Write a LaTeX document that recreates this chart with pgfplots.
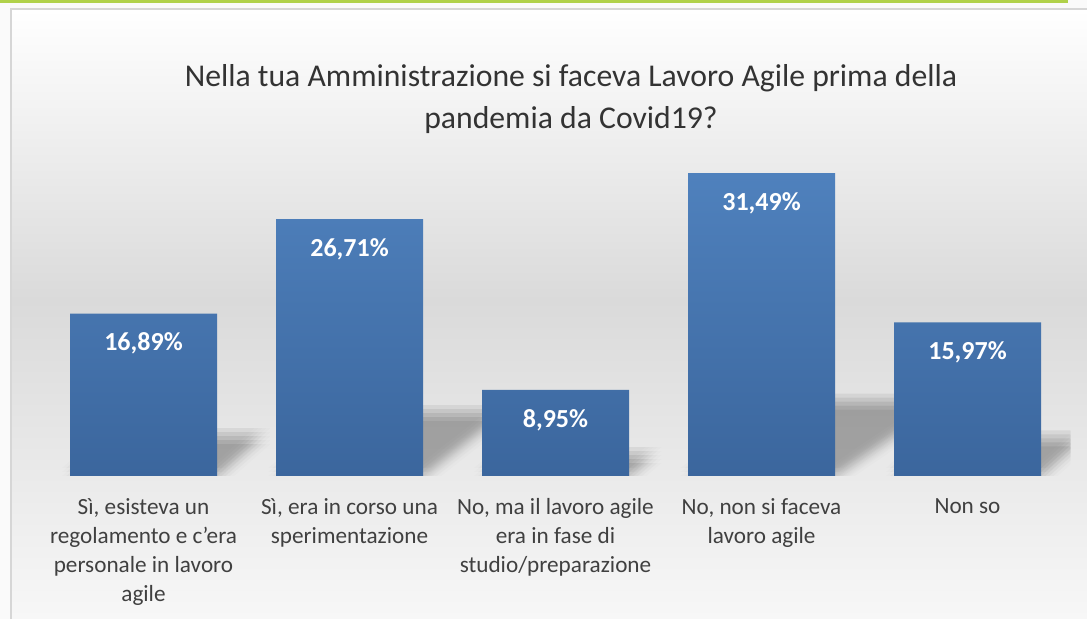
\documentclass[border=0pt]{standalone}
\usepackage{fontspec}
\setmainfont{Carlito}
\usepackage{pgfplots}
\pgfplotsset{compat=1.18}
\definecolor{bgside}{HTML}{FAFAFA}
\definecolor{framec}{HTML}{D6D6D6}
\definecolor{bgmid}{HTML}{DADADA}
\definecolor{bgbot}{HTML}{F8F8F8}
\definecolor{greenbar}{HTML}{B0D14A}
\definecolor{bartop}{HTML}{4F81BD}
\definecolor{barbot}{HTML}{3B669D}
\definecolor{txt}{HTML}{404040}
\definecolor{ttl}{HTML}{333333}
% soft (blurred) perspective shadow behind a bar: #3 left, #4 right, #5 shift, #6 height
\newcommand{\shadowone}[6]{%
  \fill[black, fill opacity=0.013, xshift=#1pt, yshift=#2pt]
    (axis cs:#3,0) -- (axis cs:#4,0) -- (axis cs:{#4+#5},#6) -- (axis cs:{#3+#5},#6) -- cycle;}
\newcommand{\shadowrow}[5]{%
  \shadowone{-4}{#1}{#2}{#3}{#4}{#5}\shadowone{-2}{#1}{#2}{#3}{#4}{#5}%
  \shadowone{0}{#1}{#2}{#3}{#4}{#5}\shadowone{2}{#1}{#2}{#3}{#4}{#5}%
  \shadowone{4}{#1}{#2}{#3}{#4}{#5}}
\newcommand{\shadowblur}[4]{%
  \shadowrow{-4}{#1}{#2}{#3}{#4}\shadowrow{-2}{#1}{#2}{#3}{#4}%
  \shadowrow{0}{#1}{#2}{#3}{#4}\shadowrow{2}{#1}{#2}{#3}{#4}%
  \shadowrow{4}{#1}{#2}{#3}{#4}}
\begin{document}
\begin{tikzpicture}
\path[use as bounding box] (0,0) rectangle (543.5pt,309.5pt);
\clip (0,0) rectangle (543.5pt,309.5pt);
\fill[bgside] (0,0) rectangle (543.5pt,309.5pt);
\shade[top color=white, bottom color=bgmid] (5.5pt,159.5pt) rectangle (550pt,304.9pt);
\shade[top color=bgmid, bottom color=bgbot] (5.5pt,-5pt) rectangle (550pt,159.5pt);
\draw[framec, line width=1pt] (5.5pt,-5pt) -- (5.5pt,304.9pt) -- (550pt,304.9pt);
\fill[greenbar] (0,307.9pt) rectangle (534pt,310pt);
\node[align=center, text=ttl, font=\fontsize{15.85}{21}\selectfont] at (285.5pt,260pt)
  {Nella tua Amministrazione si faceva Lavoro Agile prima della\\pandemia da Covid19?};
\begin{axis}[
  at={(20.25pt,71.5pt)}, anchor=south west,
  scale only axis, width=515pt, height=168.35pt,
  xmin=-0.5, xmax=4.5, ymin=0, ymax=35,
  axis line style={draw=none},
  major tick length=0pt,
  ytick=\empty,
  xtick={0,1,2,3,4},
  xticklabels={
    {Sì, esisteva un\\regolamento e c’era\\personale in lavoro\\agile},
    {Sì, era in corso una\\sperimentazione},
    {No, ma il lavoro agile\\era in fase di\\studio/preparazione},
    {No, non si faceva\\lavoro agile},
    {Non so}},
  xticklabel style={align=center, font=\fontsize{11.6}{14.5}\selectfont, text=txt, inner sep=0pt, yshift=-11pt},
  ybar, bar width=73.5pt,
  point meta=explicit symbolic,
  nodes near coords,
  every node near coord/.append style={anchor=center, yshift=-15pt, text=white, font=\bfseries\fontsize{13}{15}\selectfont},
]
\shadowblur{-0.357}{0.357}{0.22}{4.14}
\shadowblur{0.643}{1.357}{0.39}{6.54}
\shadowblur{1.643}{2.357}{0.12}{2.19}
\shadowblur{2.643}{3.357}{0.53}{7.72}
\shadowblur{3.643}{4.357}{0.20}{3.91}
\addplot[draw=none, top color=bartop, bottom color=barbot] coordinates {
  (0,16.89) [16,89\%]
  (1,26.71) [26,71\%]
  (2,8.95)  [8,95\%]
  (3,31.49) [31,49\%]
  (4,15.97) [15,97\%]
};
\end{axis}
\end{tikzpicture}
\end{document}
